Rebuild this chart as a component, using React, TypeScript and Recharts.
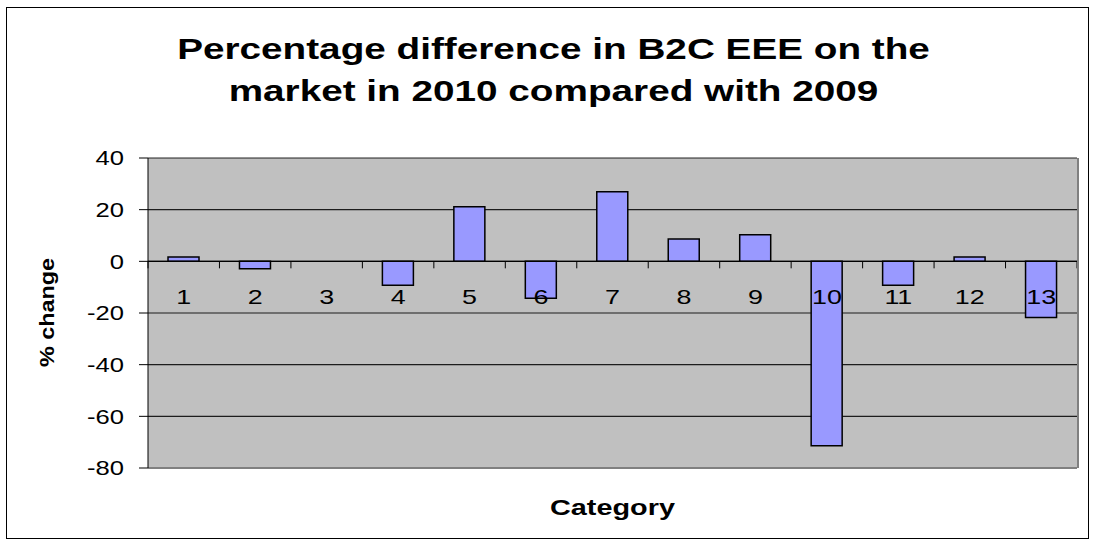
import React from "react";
import {
  BarChart,
  Bar,
  XAxis,
  YAxis,
  CartesianGrid,
  ReferenceLine,
} from "recharts";

const categories = ["1", "2", "3", "4", "5", "6", "7", "8", "9", "10", "11", "12", "13"];
const changes = [1.7, -2.9, 0, -9.3, 21.1, -14.3, 26.9, 8.6, 10.3, -71.4, -9.3, 1.7, -21.7];
const yTicks = [-80, -60, -40, -20, 0, 20, 40];

const data = categories.map((c, i) => ({ category: c, change: changes[i] }));

const W = 1095;
const H = 545;
const TOP = 158;
const LEFT = 148;
const RIGHT = 18;
const XAXIS_H = 77;
const PLOT_H = H - TOP - XAXIS_H;
const PLOT_W = W - LEFT - RIGHT;
const Y_MIN = -80;
const Y_MAX = 40;
const ZERO_Y = TOP + (PLOT_H * Y_MAX) / (Y_MAX - Y_MIN);
const BAND = PLOT_W / categories.length;

const font = "'Liberation Sans', Arial, sans-serif";
// the original text is rendered a bit wide
const STRETCH = 1.28;

// category labels sit under the zero line, not at the bottom of the plot
const CategoryTick = (props: any) => {
  const { x, index } = props;
  const left = x - BAND / 2;
  return (
    <g>
      <line x1={left} x2={left} y1={ZERO_Y} y2={ZERO_Y + 7} stroke="#000" />
      {index === categories.length - 1 && (
        <line x1={x + BAND / 2} x2={x + BAND / 2} y1={ZERO_Y} y2={ZERO_Y + 7} stroke="#000" />
      )}
      <text
        transform={`translate(${x},${ZERO_Y + 43}) scale(${STRETCH},1)`}
        textAnchor="middle"
        fontSize={21}
        fontFamily={font}
        fill="#000"
      >
        {props.payload.value}
      </text>
    </g>
  );
};

const ValueTick = (props: any) => {
  const { x, y, payload } = props;
  return (
    <text
      transform={`translate(${x},${y}) scale(${STRETCH},1)`}
      dy="0.36em"
      textAnchor="end"
      fontSize={20}
      fontFamily={font}
      fill="#000"
    >
      {payload.value}
    </text>
  );
};

export default function App() {
  return (
    <div
      style={{
        position: "absolute",
        left: 0,
        top: 0,
        width: W,
        height: H,
        background: "#fff",
        fontFamily: font,
      }}
    >
      {/* outer frame */}
      <div
        style={{
          position: "absolute",
          left: 6,
          top: 7,
          width: 1081,
          height: 530,
          border: "1px solid #000",
        }}
      />
      <div
        style={{
          position: "absolute",
          left: 6,
          top: 28,
          width: W,
          textAlign: "center",
          fontWeight: "bold",
          fontSize: 30,
          lineHeight: "42px",
          color: "#000",
          transform: "scaleX(1.29)",
        }}
      >
        Percentage difference in B2C EEE on the
        <br />
        market in 2010 compared with 2009
      </div>

      <BarChart
        width={W}
        height={H}
        data={data}
        margin={{ top: TOP, right: RIGHT, bottom: 0, left: 0 }}
        barCategoryGap="28%"
        style={{ position: "absolute", left: 0, top: 0 }}
      >
        <CartesianGrid
          vertical={false}
          fill="#c0c0c0"
          stroke="#000"
          strokeOpacity={0.85}
          strokeWidth={1.2}
        />
        <XAxis
          dataKey="category"
          height={XAXIS_H}
          axisLine={false}
          tickLine={false}
          interval={0}
          tick={<CategoryTick />}
        />
        <YAxis
          width={LEFT}
          domain={[Y_MIN, Y_MAX]}
          ticks={yTicks}
          interval={0}
          axisLine={{ stroke: "#000" }}
          tickLine={{ stroke: "#000" }}
          tickSize={9}
          tickMargin={15}
          tick={<ValueTick />}
        />
        <ReferenceLine y={Y_MIN} stroke="#808080" strokeWidth={2} />
        <Bar
          dataKey="change"
          fill="#9999ff"
          stroke="#000"
          strokeWidth={1.5}
          isAnimationActive={false}
        />
        <ReferenceLine y={0} stroke="#000" strokeWidth={1.2} />
      </BarChart>

      {/* right edge of plot area */}
      <div
        style={{
          position: "absolute",
          left: W - RIGHT,
          top: TOP,
          width: 2,
          height: PLOT_H,
          background: "#808080",
        }}
      />

      <div
        style={{
          position: "absolute",
          left: 47 - 100,
          top: TOP + PLOT_H / 2 - 12,
          width: 200,
          textAlign: "center",
          transform: "rotate(-90deg) scaleX(1.17)",
          fontWeight: "bold",
          fontSize: 20,
          color: "#000",
        }}
      >
        % change
      </div>
      <div
        style={{
          position: "absolute",
          left: LEFT,
          top: 495,
          width: PLOT_W,
          textAlign: "center",
          fontWeight: "bold",
          fontSize: 22,
          color: "#000",
          transform: "scaleX(1.31)",
        }}
      >
        Category
      </div>
    </div>
  );
}
